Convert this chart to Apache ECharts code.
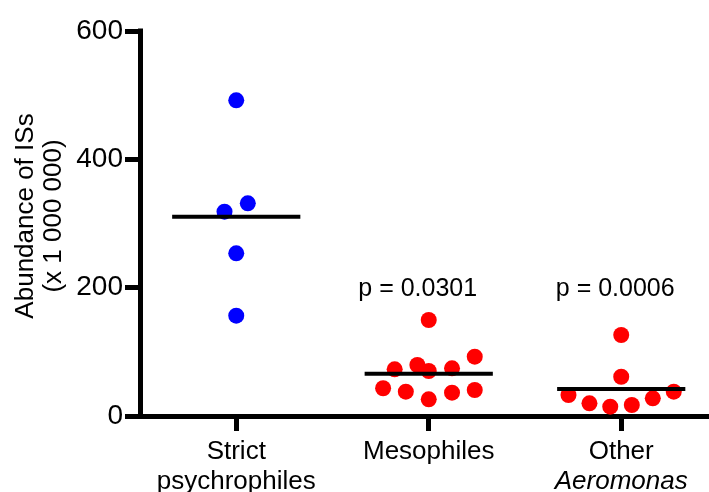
<!DOCTYPE html>
<html>
<head>
<meta charset="utf-8">
<script src="https://cdn.jsdelivr.net/npm/echarts@6/dist/echarts.min.js"></script>
<style>
html,body{margin:0;padding:0;background:#fff;}
#chart{width:709px;height:492px;}
</style>
</head>
<body>
<div id="chart"></div>
<script>
// ---- data ----
const categories = ['Strict|psychrophiles', 'Mesophiles', 'Other|Aeromonas'];
const psychro = [492, 331.5, 318.4, 253.5, 156.3];
const psychroJitter = [0, 0.06, -0.061, 0, 0];
const meso = [149.6, 92.4, 72.8, 79.5, 70.1, 74.3, 43.2, 37.9, 26.0, 36.3, 40.5];
const mesoJitter = [0, 0.239, -0.177, -0.059, 0, 0.121, -0.237, -0.119, 0, 0.121, 0.239];
const other = [126.2, 61.2, 32.7, 19.8, 14.5, 17.1, 27.6, 37.9];
const otherJitter = [0, 0, -0.274, -0.165, -0.057, 0.055, 0.164, 0.273];
const pLabels = ['p = 0.0301', 'p = 0.0006'];
const pLabelValue = [197, 197];
const yTicks = [0, 200, 400, 600];
const yTitle = 'Abundance of ISs\n(x 1 000 000)';

const FONT = 'Liberation Sans, Arial, Helvetica, sans-serif';
const groups = [
  {vals: psychro, jit: psychroJitter, color: '#0000FF'},
  {vals: meso, jit: mesoJitter, color: '#FF0000'},
  {vals: other, jit: otherJitter, color: '#FF0000'}
];
const mean = a => a.reduce((s, v) => s + v, 0) / a.length;

const series = [];
groups.forEach((g, i) => {
  const pos = i + 1;
  series.push({
    type: 'scatter',
    data: g.vals.map((v, k) => [pos + g.jit[k], v]),
    symbol: 'circle',
    symbolSize: 16,
    itemStyle: {color: g.color, opacity: 1},
    z: 2,
    silent: true
  });
  const m = mean(g.vals);
  series.push({
    type: 'line',
    data: [[pos - 0.333, m], [pos + 0.333, m]],
    symbol: 'none',
    lineStyle: {color: '#000', width: 4},
    z: 3,
    silent: true
  });
});
const pOffsets = [-11, -6];
pLabels.forEach((t, i) => {
  series.push({
    type: 'scatter',
    data: [[i + 2, pLabelValue[i]]],
    symbolSize: 0,
    silent: true,
    itemStyle: {opacity: 1, color: '#000'},
    label: {
      show: true,
      position: 'inside',
      offset: [pOffsets[i], 0],
      formatter: t,
      color: '#000',
      opacity: 1,
      fontSize: 25,
      fontFamily: FONT
    }
  });
});

const chart = echarts.init(document.getElementById('chart'), null, {renderer: 'canvas'});
chart.setOption({
  animation: false,
  backgroundColor: '#fff',
  grid: {left: 140, right: 0, top: 31, bottom: 76, containLabel: false, outerBoundsMode: 'none'},
  xAxis: {
    type: 'value',
    min: 0.5,
    max: 3.456,
    splitLine: {show: false},
    axisLine: {show: true, lineStyle: {color: '#000', width: 5, cap: 'square'}},
    axisTick: {show: true, customValues: [1, 2, 3], length: 15, lineStyle: {color: '#000', width: 5}},
    axisLabel: {
      customValues: [1, 2, 3],
      margin: 21,
      formatter: v => {
        const parts = categories[Math.round(v) - 1].split('|');
        if (parts.length === 1) return '{n|' + parts[0] + '}';
        if (Math.round(v) === 3) return '{n|' + parts[0] + '}\n{i|' + parts[1] + '}';
        return '{n|' + parts[0] + '}\n{n|' + parts[1] + '}';
      },
      rich: {
        n: {fontSize: 26, fontFamily: FONT, color: '#000', lineHeight: 30},
        i: {fontSize: 26, fontFamily: FONT, color: '#000', lineHeight: 30, fontStyle: 'italic'}
      }
    }
  },
  yAxis: {
    type: 'value',
    min: yTicks[0],
    max: yTicks[yTicks.length - 1],
    interval: yTicks[1] - yTicks[0],
    splitLine: {show: false},
    axisLine: {show: true, lineStyle: {color: '#000', width: 5, cap: 'square'}},
    axisTick: {show: true, length: 15, lineStyle: {color: '#000', width: 5}},
    axisLabel: {margin: 17, fontSize: 28, fontFamily: FONT, color: '#000'}
  },
  graphic: [{
    type: 'text',
    x: 40,
    y: 216,
    rotation: Math.PI / 2,
    style: {
      text: yTitle,
      font: '26px ' + FONT,
      fill: '#000',
      align: 'center',
      verticalAlign: 'middle',
      lineHeight: 28
    }
  }],
  series: series
});
</script>
</body>
</html>
